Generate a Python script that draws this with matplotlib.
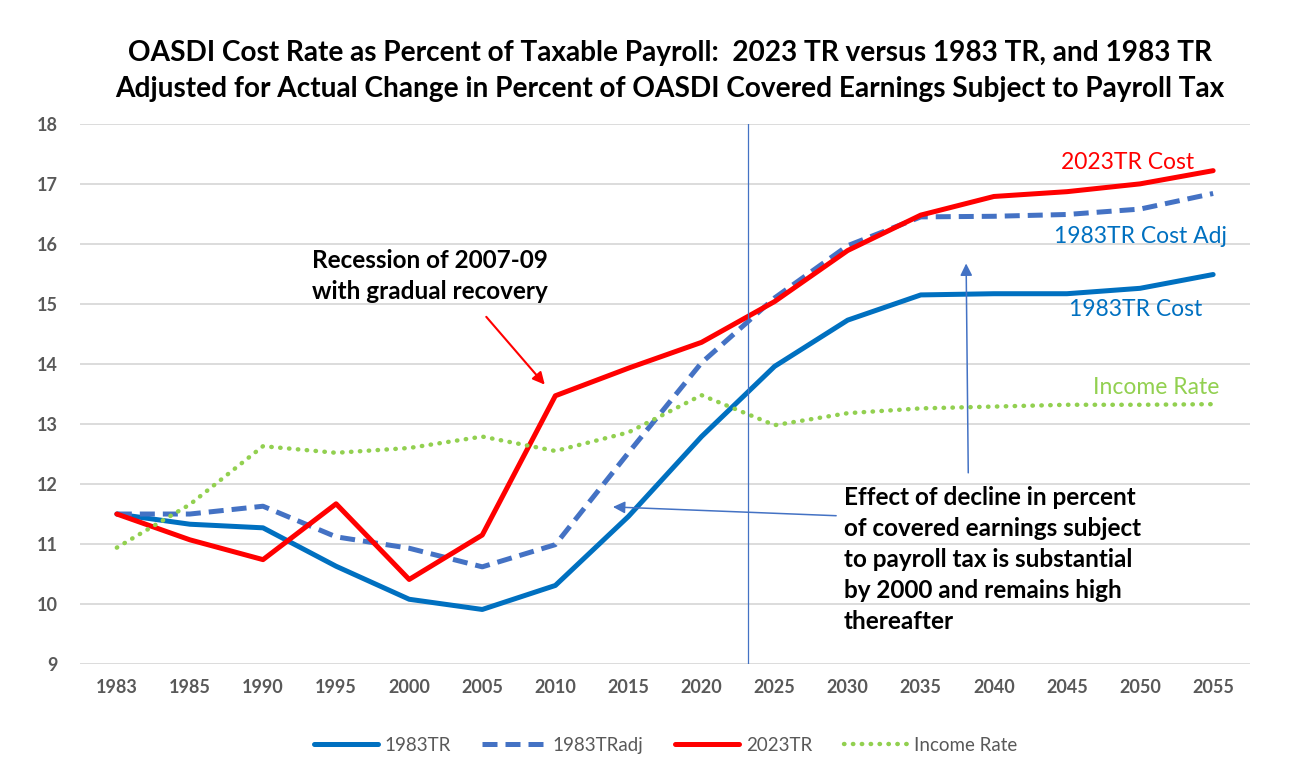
import matplotlib
matplotlib.use("Agg")
import matplotlib.pyplot as plt

plt.rcParams['font.family'] = ['Lato', 'DejaVu Sans']

# data
years = ['1983', '1985', '1990', '1995', '2000', '2005', '2010', '2015',
         '2020', '2025', '2030', '2035', '2040', '2045', '2050', '2055']
tr1983 = [11.50, 11.33, 11.27, 10.63, 10.08, 9.91, 10.31, 11.46,
          12.79, 13.96, 14.73, 15.15, 15.17, 15.17, 15.26, 15.49]
tr1983adj = [11.50, 11.50, 11.63, 11.12, 10.93, 10.62, 10.99, 12.52,
             14.02, 15.10, 15.97, 16.45, 16.46, 16.49, 16.58, 16.84]
tr2023 = [11.50, 11.07, 10.74, 11.67, 10.41, 11.15, 13.47, 13.93,
          14.36, 15.04, 15.89, 16.48, 16.79, 16.87, 17.00, 17.22]
income = [10.94, 11.66, 12.63, 12.52, 12.60, 12.79, 12.55, 12.86,
          13.48, 12.98, 13.18, 13.26, 13.29, 13.32, 13.32, 13.33]

x = list(range(len(years)))

fig = plt.figure(figsize=(12.95, 7.74), dpi=100)
ax = fig.add_axes([0.062, 0.142, 0.903, 0.698])

ax.plot(x, tr1983, color='#0070C0', lw=3.6, label='1983TR', solid_capstyle='round')
ax.plot(x, tr1983adj, color='#4472C4', lw=3.6, ls=(0, (3, 1.6)), label='1983TRadj')
ax.plot(x, tr2023, color='#FF0000', lw=3.6, label='2023TR', solid_capstyle='round')
ax.plot(x, income, color='#92D050', lw=3.2, ls=(0, (0.1, 1.9)),
        dash_capstyle='round', label='Income Rate')

# current year marker (2023)
ax.axvline(8.63, color='#4472C4', lw=0.9)

ax.set_xlim(-0.5, 15.5)
ax.set_ylim(9, 18)
ax.set_yticks(range(9, 19))
ax.set_xticks(x)
ax.set_xticklabels(years)
ax.tick_params(length=0, labelsize=13, labelcolor='#595959', pad=11)
ax.tick_params(axis='y', pad=16)
for lab in ax.get_xticklabels() + ax.get_yticklabels():
    lab.set_fontweight('bold')
for s in ax.spines.values():
    s.set_visible(False)
ax.grid(axis='y', color='#D9D9D9', lw=1.3)
ax.set_axisbelow(True)

fig.text(0.517, 0.908, 'OASDI Cost Rate as Percent of Taxable Payroll:  2023 TR versus 1983 TR, and 1983 TR\n'
         'Adjusted for Actual Change in Percent of OASDI Covered Earnings Subject to Payroll Tax',
         ha='center', va='center', fontsize=20.2, fontweight='bold', linespacing=1.5)

# series labels
ax.text(14.74, 17.35, '2023TR Cost', color='#FF0000', fontsize=16.5, ha='right', va='center')
ax.text(15.19, 16.13, '1983TR Cost Adj', color='#0070C0', fontsize=16.5, ha='right', va='center')
ax.text(14.85, 14.9, '1983TR Cost', color='#0070C0', fontsize=16.5, ha='right', va='center')
ax.text(15.08, 13.6, 'Income Rate', color='#92D050', fontsize=16.5, ha='right', va='center')

# annotations
ax.text(2.67, 15.47, 'Recession of 2007-09\nwith gradual recovery', fontsize=17.5,
        fontweight='bold', ha='left', va='center', linespacing=1.4)
ax.annotate('', xy=(5.88, 13.62), xytext=(5.03, 14.82),
            arrowprops=dict(arrowstyle='-|>', color='#FF0000', lw=1.5, mutation_scale=18))

ax.text(9.95, 11.97, 'Effect of decline in percent\nof covered earnings subject\n'
        'to payroll tax is substantial\nby 2000 and remains high\nthereafter',
        fontsize=17.5, fontweight='bold', ha='left', va='top', linespacing=1.42)
ax.annotate('', xy=(6.75, 11.62), xytext=(9.88, 11.47),
            arrowprops=dict(arrowstyle='-|>', color='#4472C4', lw=1.1, mutation_scale=18))
ax.annotate('', xy=(11.62, 15.72), xytext=(11.65, 12.14),
            arrowprops=dict(arrowstyle='-|>', color='#4472C4', lw=1.1, mutation_scale=18))

leg = fig.legend(loc='center', bbox_to_anchor=(0.514, 0.037), ncol=4, frameon=False,
                 fontsize=13.5, handlelength=3.4, columnspacing=1.7, handletextpad=0.35)
for t in leg.get_texts():
    t.set_color('#595959')

fig.savefig('out.png', dpi=100)
